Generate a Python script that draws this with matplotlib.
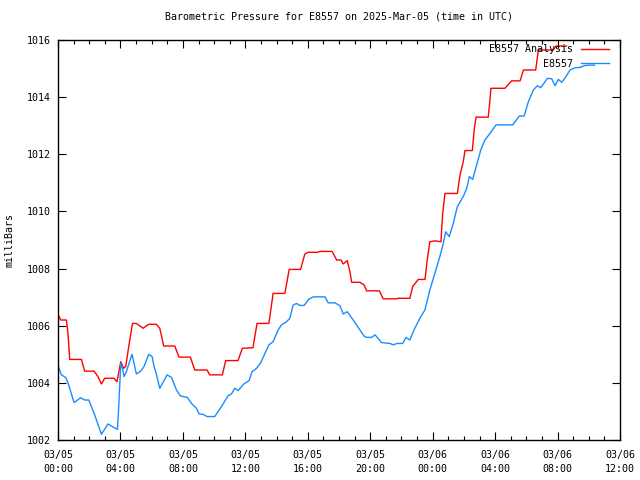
import matplotlib
matplotlib.use("Agg")
import matplotlib.pyplot as plt
from matplotlib.ticker import MultipleLocator

# Hours since 2025-03-05 00:00 UTC and pressure (mb)
obs_hours = [0.0, 0.22, 0.49, 0.64, 1.03, 1.45, 1.71, 1.97, 2.35, 2.78, 3.2, 3.42, 3.81, 3.89,
             4.02, 4.13, 4.23, 4.38, 4.74, 5.02, 5.30, 5.51, 5.81, 6.03, 6.15, 6.26, 6.52, 6.99,
             7.27, 7.59, 7.85, 8.29, 8.55, 8.87, 9.04, 9.29, 9.55, 10.04, 10.47, 10.90, 11.11,
             11.32, 11.54, 11.90, 12.24, 12.43, 12.72, 12.99, 13.51, 13.78, 14.10, 14.32, 14.64,
             14.85, 15.06, 15.28, 15.49, 15.77, 16.07, 16.35, 17.10, 17.31, 17.74, 18.06, 18.27,
             18.53, 18.91, 19.23, 19.60, 19.77, 20.09, 20.31, 20.73, 21.26, 21.47, 21.73, 22.08,
             22.29, 22.54, 22.80, 23.18, 23.50, 23.82, 24.14, 24.46, 24.68, 24.83, 25.06, 25.32,
             25.58, 25.96, 26.18, 26.35, 26.56, 26.82, 27.08, 27.35, 27.67, 28.06, 29.13, 29.55,
             29.86, 30.13, 30.45, 30.71, 30.92, 31.20, 31.35, 31.63, 31.84, 32.05, 32.27, 32.54,
             32.80, 33.12, 33.44, 33.70, 33.97, 34.36]
obs_mb = [1004.60, 1004.28, 1004.19, 1004.00, 1003.31, 1003.48, 1003.40, 1003.40, 1002.88, 1002.20,
          1002.56, 1002.49, 1002.37, 1003.17, 1004.68, 1004.51, 1004.22, 1004.39, 1005.00, 1004.31,
          1004.41, 1004.57, 1005.00, 1004.92, 1004.57, 1004.39, 1003.81, 1004.28, 1004.19, 1003.75,
          1003.54, 1003.49, 1003.28, 1003.11, 1002.91, 1002.90, 1002.82, 1002.82, 1003.17, 1003.55,
          1003.61, 1003.81, 1003.73, 1003.96, 1004.08, 1004.39, 1004.51, 1004.71, 1005.33, 1005.44,
          1005.85, 1006.03, 1006.14, 1006.26, 1006.72, 1006.78, 1006.71, 1006.71, 1006.93, 1007.01,
          1007.01, 1006.80, 1006.80, 1006.70, 1006.41, 1006.49, 1006.20, 1005.94, 1005.64, 1005.59,
          1005.59, 1005.68, 1005.41, 1005.38, 1005.33, 1005.38, 1005.38, 1005.59, 1005.50, 1005.85,
          1006.26, 1006.55, 1007.25, 1007.83, 1008.42, 1008.88, 1009.29, 1009.12, 1009.58, 1010.17,
          1010.52, 1010.81, 1011.22, 1011.12, 1011.63, 1012.15, 1012.50, 1012.73, 1013.03, 1013.03,
          1013.34, 1013.34, 1013.84, 1014.25, 1014.40, 1014.33, 1014.54, 1014.66, 1014.64, 1014.40,
          1014.62, 1014.52, 1014.72, 1014.95, 1015.03, 1015.04, 1015.10, 1015.12, 1015.12]

ana_hours = [0.0, 0.17, 0.54, 0.64, 0.75, 1.5, 1.71, 2.31, 2.56, 2.78, 2.99, 3.59, 3.78, 4.02,
             4.21, 4.34, 4.53, 4.77, 5.02, 5.45, 5.81, 6.30, 6.52, 6.77, 7.48, 7.75, 8.48, 8.76,
             9.55, 9.72, 10.53, 10.74, 11.53, 11.81, 12.49, 12.75, 13.51, 13.78, 14.53, 14.81,
             15.54, 15.81, 16.03, 16.63, 16.78, 17.56, 17.85, 18.13, 18.27, 18.53, 18.70, 18.81,
             19.35, 19.60, 19.77, 20.58, 20.83, 21.65, 21.79, 22.54, 22.72, 23.08, 23.51, 23.65,
             23.82, 24.14, 24.53, 24.64, 24.79, 25.58, 25.75, 25.96, 26.07, 26.54, 26.67, 26.78,
             27.56, 27.67, 27.73, 28.63, 29.06, 29.60, 29.81, 30.60, 30.77, 31.73, 31.90, 32.57]
ana_mb = [1006.41, 1006.20, 1006.20, 1005.73, 1004.82, 1004.82, 1004.41, 1004.41, 1004.22, 1003.96,
          1004.16, 1004.16, 1004.04, 1004.74, 1004.51, 1004.57, 1005.27, 1006.08, 1006.08, 1005.91,
          1006.05, 1006.05, 1005.91, 1005.29, 1005.29, 1004.90, 1004.90, 1004.45, 1004.45, 1004.28,
          1004.28, 1004.78, 1004.78, 1005.21, 1005.23, 1006.08, 1006.08, 1007.13, 1007.13, 1007.97,
          1007.97, 1008.51, 1008.57, 1008.57, 1008.60, 1008.60, 1008.30, 1008.30, 1008.16, 1008.28,
          1007.89, 1007.52, 1007.52, 1007.43, 1007.22, 1007.22, 1006.94, 1006.94, 1006.96, 1006.96,
          1007.37, 1007.62, 1007.62, 1008.30, 1008.94, 1008.97, 1008.94, 1009.93, 1010.63, 1010.63,
          1011.27, 1011.74, 1012.13, 1012.13, 1012.91, 1013.30, 1013.30, 1013.90, 1014.31, 1014.31,
          1014.57, 1014.57, 1014.95, 1014.95, 1015.65, 1015.65, 1015.79, 1015.79]

xtick_hours = [0, 4, 8, 12, 16, 20, 24, 28, 32, 36]
xtick_labels = ["03/05\n00:00", "03/05\n04:00", "03/05\n08:00", "03/05\n12:00", "03/05\n16:00",
                "03/05\n20:00", "03/06\n00:00", "03/06\n04:00", "03/06\n08:00", "03/06\n12:00"]
yticks = [1002, 1004, 1006, 1008, 1010, 1012, 1014, 1016]

FS = 7.2
plt.rcParams['font.family'] = ['DejaVu Sans Mono']
fig = plt.figure(figsize=(6.4, 4.8), dpi=100)
ax = fig.add_axes([58/640, 40/480, 562/640, 400/480])

ax.plot(ana_hours, ana_mb, color='#ff0000', lw=1.0, label='E8557 Analysis')
ax.plot(obs_hours, obs_mb, color='#1a8cff', lw=1.0, label='E8557')

ax.set_xlim(0, 36)
ax.set_ylim(1002, 1016)
ax.set_xticks(xtick_hours)
ax.set_xticklabels(xtick_labels, fontsize=FS, linespacing=1.55)
ax.xaxis.set_minor_locator(MultipleLocator(1))
ax.set_yticks(yticks)
ax.set_yticklabels([str(v) for v in yticks], fontsize=FS)
ax.tick_params(which='major', direction='in', length=6, width=0.8, top=True, right=True)
ax.tick_params(axis='x', which='major', pad=7)
ax.tick_params(axis='y', which='major', pad=5)
ax.tick_params(which='minor', direction='in', length=3, width=0.8, top=True, right=False, left=False)
for s in ax.spines.values():
    s.set_linewidth(1.0)

ax.set_ylabel('milliBars', fontsize=FS, labelpad=9)
ax.set_title('Barometric Pressure for E8557 on 2025-Mar-05 (time in UTC)', fontsize=FS, pad=15)

leg = ax.legend(loc='upper right', frameon=False, markerfirst=False, fontsize=FS,
                handlelength=2.8, handletextpad=0.8, labelspacing=0.45,
                borderaxespad=0.3, borderpad=0.0, bbox_to_anchor=(0.985, 0.997))

fig.savefig('out.png', dpi=100)
